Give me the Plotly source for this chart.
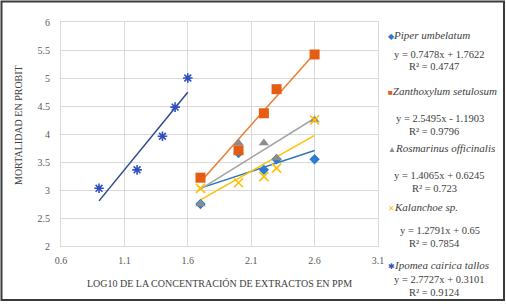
import plotly.graph_objects as go

# ---- data ----
series_names = ["Piper umbelatum", "Zanthoxylum setulosum", "Rosmarinus officinalis",
                "Kalanchoe sp.", "Ipomea cairica tallos"]

x_piper = [1.7, 2.0, 2.2, 2.3, 2.6]
y_piper = [2.75, 3.66, 3.36, 3.55, 3.55]

x_zanth = [1.7, 2.0, 2.2, 2.3, 2.6]
y_zanth = [3.22, 3.71, 4.37, 4.80, 5.42]

x_rosm = [1.7, 2.0, 2.2, 2.3, 2.6]
y_rosm = [2.75, 3.84, 3.84, 3.57, 4.25]

x_kalan = [1.7, 2.0, 2.2, 2.3, 2.6]
y_kalan = [3.03, 3.13, 3.24, 3.39, 4.25]

x_ipom = [0.9, 1.2, 1.4, 1.5, 1.6]
y_ipom = [3.03, 3.36, 3.96, 4.48, 5.00]

slopes = [0.7478, 2.5495, 1.4065, 1.2791, 2.7727]
intercepts = [1.7622, -1.1903, 0.6245, 0.65, 0.3101]
equations = ["y = 0.7478x + 1.7622", "y = 2.5495x - 1.1903", "y = 1.4065x + 0.6245",
             "y = 1.2791x + 0.65", "y = 2.7727x + 0.3101"]
r2_labels = ["R² = 0.4747", "R² = 0.9796", "R² = 0.723", "R² = 0.7854", "R² = 0.9124"]

x_ticks = [0.6, 1.1, 1.6, 2.1, 2.6, 3.1]
y_ticks = [2, 2.5, 3, 3.5, 4, 4.5, 5, 5.5, 6]

# ---- styles ----
marker_colors = ["#2B7BD0", "#E65C12", "#8C8C8C", "#FFC000", "#3050C0"]
line_colors = ["#2E75B6", "#ED7D31", "#A5A5A5", "#FFC000", "#2A4A8C"]
symbols = ["diamond", "square", "triangle-up", "x-thin", "asterisk"]
sizes = [8, 10, 9, 9, 8]
glyphs = ["◆", "■", "▲", "✕", "✱"]

xs = [x_piper, x_zanth, x_rosm, x_kalan, x_ipom]
ys = [y_piper, y_zanth, y_rosm, y_kalan, y_ipom]

W, H = 506, 304
ML, MR, MT, MB = 61, 128, 22, 58
PW, PH = W - ML - MR, H - MT - MB


def px(xpix):
    return (xpix - ML) / PW


def py(ypix):
    return (H - MB - ypix) / PH


FONT = "Liberation Serif, Times New Roman, serif"

fig = go.Figure()

# trendlines
for i in range(5):
    xr = [min(xs[i]), max(xs[i])]
    yr = [slopes[i] * v + intercepts[i] for v in xr]
    fig.add_trace(go.Scatter(x=xr, y=yr, mode="lines",
                             line=dict(color=line_colors[i], width=1.5),
                             showlegend=False, hoverinfo="skip"))

# markers
for i in range(5):
    if symbols[i] in ("x-thin", "asterisk"):
        mk = dict(symbol=symbols[i], size=sizes[i],
                  line=dict(color=marker_colors[i], width=1.6), color=marker_colors[i])
    else:
        mk = dict(symbol=symbols[i], size=sizes[i], color=marker_colors[i])
    fig.add_trace(go.Scatter(x=xs[i], y=ys[i], mode="markers", name=series_names[i],
                             marker=mk, showlegend=False))

# legend-like annotations
name_y = [35, 91, 148, 207, 265]
eq_y = [54, 118, 175, 230, 279]
r2_y = [67, 131, 188, 243, 292]
ann = []
for i in range(5):
    ann.append(dict(xref="paper", yref="paper", x=px(386), y=py(name_y[i]),
                    xanchor="left", yanchor="middle", showarrow=False,
                    text=f"<span style='color:{marker_colors[i]};font-size:8px'>{glyphs[i]}</span>"
                         f"<i>{series_names[i]}</i>",
                    font=dict(family=FONT, size=11, color="#404040")))
    ann.append(dict(xref="paper", yref="paper", x=px(440), y=py(eq_y[i]),
                    xanchor="center", yanchor="middle", showarrow=False, borderpad=0,
                    text=equations[i], font=dict(family=FONT, size=10.5, color="#404040")))
    ann.append(dict(xref="paper", yref="paper", x=px(434), y=py(r2_y[i]),
                    xanchor="center", yanchor="middle", showarrow=False, borderpad=0,
                    text=r2_labels[i], font=dict(family=FONT, size=10.5, color="#404040")))

# y-axis title placed as in the reference (slightly above plot centre)
ann.append(dict(xref="paper", yref="paper", x=px(18), y=py(125),
                xanchor="center", yanchor="middle", showarrow=False, textangle=-90,
                text="MORTALIDAD EN PROBIT", font=dict(family=FONT, size=10, color="#404040")))

fig.update_layout(
    width=W, height=H,
    margin=dict(l=ML, r=MR, t=MT, b=MB),
    paper_bgcolor="white", plot_bgcolor="white",
    font=dict(family=FONT, size=10, color="#595959"),
    showlegend=False,
    annotations=ann,
    shapes=[dict(type="rect", xref="paper", yref="paper",
                 x0=px(1.5), x1=px(504), y0=py(300), y1=py(1.5),
                 line=dict(color="#3A3A3A", width=2), fillcolor="rgba(0,0,0,0)",
                 layer="above")],
)

fig.update_xaxes(range=[0.6, 3.1], tickvals=x_ticks, ticktext=[str(v) for v in x_ticks],
                 showgrid=True, gridcolor="#D9D9D9", gridwidth=1,
                 showline=True, linecolor="#D9D9D9", mirror=True, zeroline=False,
                 ticks="outside", ticklen=5, tickcolor="rgba(0,0,0,0)",
                 tickfont=dict(family=FONT, size=10, color="#595959"),
                 title=dict(text="LOG10 DE LA CONCENTRACIÓN DE EXTRACTOS EN PPM",
                            font=dict(family=FONT, size=10, color="#404040"), standoff=14))
fig.update_yaxes(range=[2, 6], tickvals=y_ticks, ticktext=[f"{v:g}" for v in y_ticks],
                 showgrid=True, gridcolor="#D9D9D9", gridwidth=1,
                 showline=True, linecolor="#D9D9D9", mirror=True, zeroline=False,
                 ticks="outside", ticklen=8, tickcolor="rgba(0,0,0,0)",
                 tickfont=dict(family=FONT, size=10, color="#595959"))

fig.write_html("out.html", config={"displayModeBar": False},
               post_script="document.body.style.margin='0';document.body.style.padding='0';")
